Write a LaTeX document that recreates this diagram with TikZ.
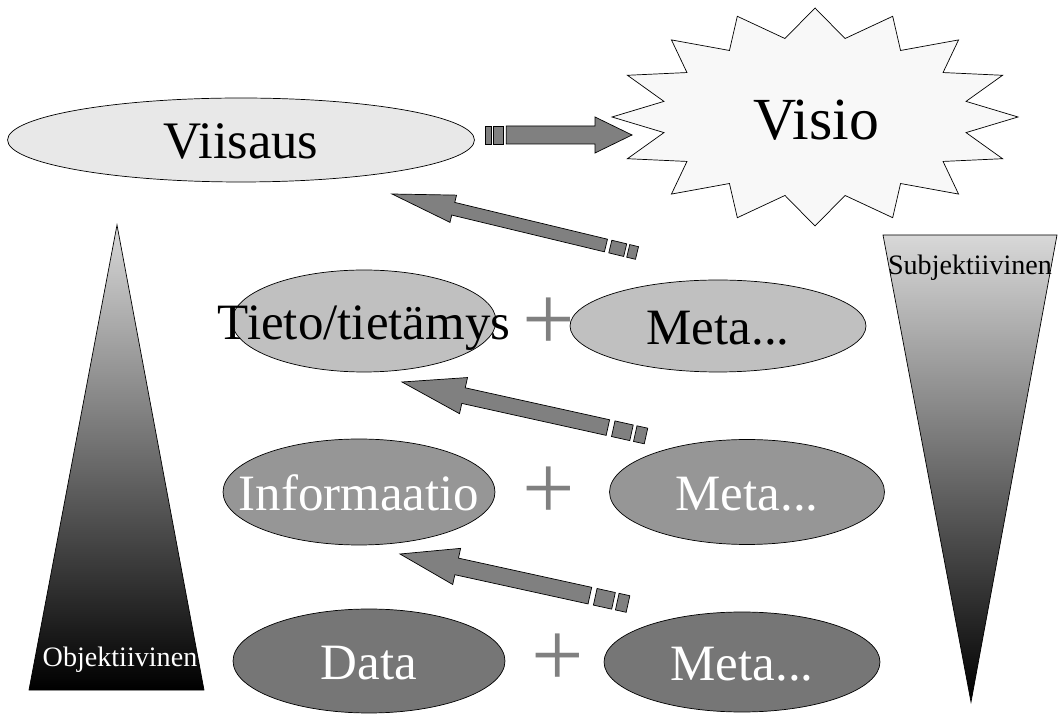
\documentclass[tikz,border=0pt]{standalone}
\usepackage{fontspec}
\setmainfont{Liberation Serif}
\usetikzlibrary{shapes.geometric, calc}
\definecolor{wisefill}{RGB}{232, 232, 232}
\definecolor{knowfill}{RGB}{192, 192, 192}
\definecolor{infofill}{RGB}{150, 150, 150}
\definecolor{datafill}{RGB}{118, 118, 118}
\definecolor{starfill}{RGB}{248, 248, 248}
\definecolor{arrowgray}{RGB}{128, 128, 128}
\definecolor{trilight}{RGB}{216, 216, 216}
\tikzset{
  layer/.style={ellipse, draw, inner sep=0pt, text height=0.76cm, text depth=0pt, font=\fontsize{29}{34}\selectfont},
  wisenode/.style={layer, fill=wisefill, font=\fontsize{30}{36}\selectfont},
  knownode/.style={layer, fill=knowfill},
  infonode/.style={layer, fill=infofill, text=white},
  datanode/.style={layer, fill=datafill, text=white},
  plusnode/.style={text=arrowgray, inner sep=0pt, font=\fontsize{53}{53}\selectfont},
  sidelabel/.style={inner sep=0pt, text height=0.4cm, text depth=0pt, font=\fontsize{16}{19}\selectfont},
  blockarrow/.style={draw, fill=arrowgray},
}
% striped block arrow: tail, tip, head length, head half width, shaft half width, stripe unit
\newcommand{\stripearrow}[6]{%
  \pgfmathanglebetweenpoints{\pgfpointanchor{#1}{center}}{\pgfpointanchor{#2}{center}}%
  \let\arrang\pgfmathresult
  \begin{scope}[shift={(#1)}, rotate=\arrang]
    \draw[blockarrow] (0,-#5) rectangle (#6,#5);
    \draw[blockarrow] ({1.35*#6},-#5) rectangle ({3.05*#6},#5);
    \draw[blockarrow] ({3.55*#6},#5) -- ($(#2)+(-#3,#5)$) -- ($(#2)+(-#3,#4)$) -- (#2)
      -- ($(#2)+(-#3,-#4)$) -- ($(#2)+(-#3,-#5)$) -- ({3.55*#6},-#5) -- cycle;
  \end{scope}}

\begin{document}
\begin{tikzpicture}[x=0.02cm, y=-0.02cm]
  \useasboundingbox (0,0) rectangle (1058,715);
  % side wedges
  \draw[top color=trilight, bottom color=black] (117,225) -- (204,690) -- (29,690) -- cycle;
  \draw[top color=trilight, bottom color=black] (883,235) -- (1057,235) -- (971,702) -- cycle;
  \node[sidelabel, text=white] (obj) at (120,657) {Objektiivinen};
  \node[sidelabel] (subj) at (970,265) {Subjektiivinen};
  % vision star
  \begin{scope}[shift={(815,117)}]
    \draw[fill=starfill] (90:203 and 109)
      \foreach \k in {0,...,15} {-- ({101.25+22.5*\k}:154 and 80) -- ({112.5+22.5*\k}:203 and 109)} -- cycle;
  \end{scope}
  \node[inner sep=0pt, text height=0.84cm, text depth=0pt, font=\fontsize{34}{40}\selectfont] (visio) at (816,119) {Visio};
  % layers
  \node[wisenode, minimum width=9.34cm, minimum height=1.68cm] (viisaus) at (241,140) {\makebox[0pt]{Viisaus}};
  \node[knownode, minimum width=5.28cm, minimum height=2.04cm] (tieto) at (364,321) {\makebox[0pt]{Tieto/tietämys}};
  \node[knownode, minimum width=5.92cm, minimum height=1.84cm] (meta1) at (718,326) {\makebox[0pt]{Meta...}};
  \node[infonode, minimum width=5.44cm, minimum height=2.12cm] (info) at (359,492) {\makebox[0pt]{Informaatio}};
  \node[infonode, minimum width=5.5cm, minimum height=2.1cm] (meta2) at (747,492) {\makebox[0pt]{Meta...}};
  \node[datanode, minimum width=5.44cm, minimum height=2.08cm] (data) at (369,661) {\makebox[0pt]{Data}};
  \node[datanode, minimum width=5.52cm, minimum height=2cm] (meta3) at (742,662) {\makebox[0pt]{Meta...}};
  \node[plusnode] (plus1) at (549,324) {+};
  \node[plusnode] (plus2) at (549,493) {+};
  \node[plusnode] (plus3) at (558,660) {+};
  % arrows
  \coordinate (a1s) at (485,135);
  \coordinate (a1e) at (632,135);
  \coordinate (a2s) at (637,253);
  \coordinate (a2e) at (392,194);
  \coordinate (a3s) at (646,436);
  \coordinate (a3e) at (402,382);
  \coordinate (a4s) at (628,604);
  \coordinate (a4e) at (400,554);
  \stripearrow{a1s}{a1e}{37}{18}{9}{6}
  \stripearrow{a2s}{a2e}{63}{14}{6.5}{9}
  \stripearrow{a3s}{a3e}{63}{18.5}{8}{11}
  \stripearrow{a4s}{a4e}{58}{18.5}{8.5}{11}
\end{tikzpicture}
\end{document}
